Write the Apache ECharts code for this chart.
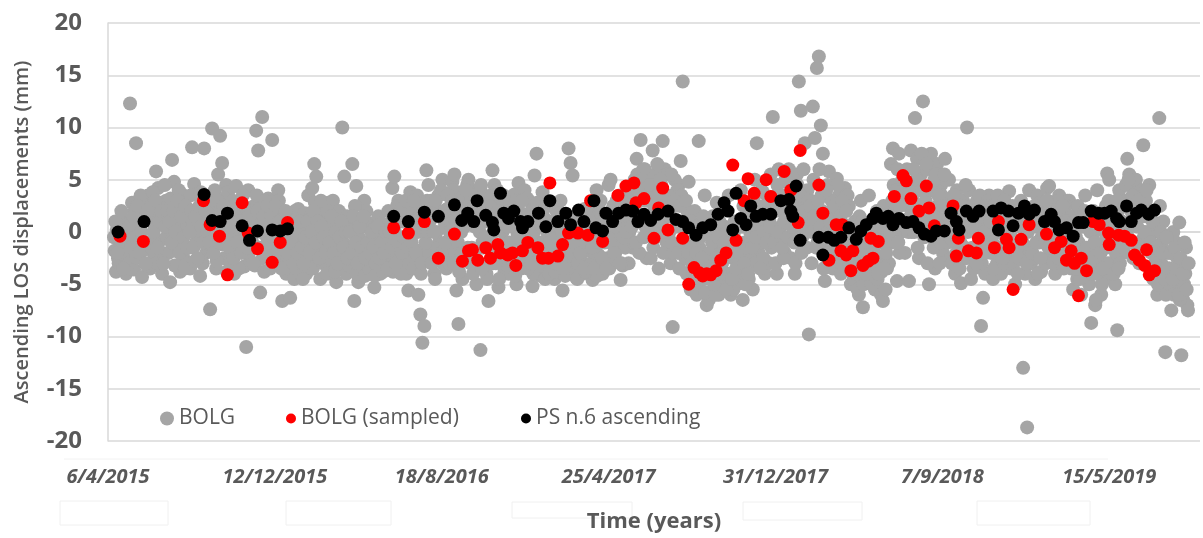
<!DOCTYPE html>
<html>
<head>
<meta charset="utf-8">
<title>Ascending LOS displacements</title>
<script src="https://cdn.jsdelivr.net/npm/echarts@6.0.0/dist/echarts.min.js"></script>
<style>
  html, body { margin: 0; padding: 0; background: #fff; }
  #chart { width: 1203px; height: 538px; }
</style>
</head>
<body>
<div id="chart"></div>
<script>
// x values are days counted from 6/4/2015 (the axis start)
const tickLabels = ['6/4/2015', '12/12/2015', '18/8/2016', '25/4/2017', '31/12/2017', '7/9/2018', '15/5/2019'];
const tickStep = 250;
const dayMax = 1636;

// BOLG daily readings, split in three passes of every 3rd day; each row holds 30 days
const bolgStep = 3;
// days 0, 3, 6, ...
const bolgRows = [
  [null, null, null, -0.5, -3.8, -2.5, 0.8, -3.2, -1.5, -4.0],
  [-2.0, 12.3, 2.8, -3.6, 8.5, 0.5, 3.2, -4.3, 1.8, -1.2],
  [3.5, -3.5, 2.0, -2.2, 5.8, 4.2, -0.8, -4.0, 1.2, 3.0],
  [2.5, -4.8, 6.9, 4.8, -1.5, 0.8, -3.8, 3.6, -2.6, 1.5],
  [2.2, -3.5, 8.1, 4.6, -1.0, 0.5, -4.2, 3.0, 8.0, -2.0],
  [0.2, -7.4, 9.9, 2.0, -3.5, 5.5, 9.2, 6.6, -2.5, 4.5],
  [3.8, -3.0, 1.5, -4.0, 4.4, -1.2, 2.5, 0.3, -3.3, -11.0],
  [4.0, -2.8, -1.0, 2.5, 9.7, 7.8, -5.8, 11.0, -3.8, 1.0],
  [3.2, -3.5, 8.8, 1.8, -1.5, 4.0, -2.6, -6.6, 0.2, -4.0],
  [-2.0, -6.3, 1.5, -4.5, -0.5, 2.2, -3.2, -1.2, 0.8, -4.0],
  [3.5, -2.8, 4.2, 6.5, 5.3, 1.0, -4.5, 2.5, -1.5, 0.2],
  [2.8, -3.5, -1.0, 1.8, -4.8, 0.5, -2.2, 10.0, 5.3, -4.0],
  [-2.0, 1.2, 6.5, -6.6, 4.4, -4.8, -0.8, -3.5, 3.0, 2.0],
  [-1.0, 0.8, -3.2, -5.3, -2.0, 1.5, -4.0, -0.3, -2.8, 0.5],
  [2.0, -2.5, 4.2, 5.3, -0.5, 3.0, -3.5, 1.0, -1.8, -4.0],
  [-5.6, 3.8, -2.8, 1.5, 2.8, -6.0, -7.9, -10.6, -9.0, 5.9],
  [4.5, -1.5, 2.5, -4.0, 0.0, 3.5, -2.8, 5.0, 1.0, -3.5],
  [2.0, -2.0, 4.8, 5.5, -5.6, -8.8, 3.8, -4.5, 0.5, 2.8],
  [5.0, -3.0, 1.5, 4.0, -5.0, 2.5, -11.3, -1.0, 3.5, -4.0],
  [-6.6, 1.2, 5.9, 4.5, -2.5, -5.3, 3.0, 0.0, -3.8, 2.0],
  [-4.0, 2.5, -1.5, 3.6, -5.0, 4.7, 0.8, -3.0, 4.0, -2.0],
  [3.0, -0.5, -5.2, 5.4, 7.5, 1.5, -4.2, 3.8, -2.5, -3.5],
  [2.5, -3.5, 0.5, -4.5, 2.0, -1.5, 3.0, -5.6, -2.8, -0.2],
  [8.0, 6.6, 5.4, -3.0, -4.4, 1.0, -2.0, -4.0, 2.2, -1.0],
  [-3.5, 2.0, -4.6, 0.5, 4.0, -2.2, 3.0, -4.0, -1.0, 1.5],
  [4.5, 5.0, -2.5, 1.5, 3.0, -1.0, -4.6, -3.2, 2.0, 0.0],
  [-3.0, 2.5, -1.5, 5.0, 7.0, 1.0, 8.8, 3.5, 6.0, -2.5],
  [3.5, -2.5, 7.8, 5.5, 1.0, -3.5, 4.0, 8.7, 6.0, -1.0],
  [3.0, -3.0, -9.1, 5.0, -1.5, 4.5, 6.8, 14.4, 1.0, -4.0],
  [4.8, -5.5, -3.0, 2.0, -6.0, 8.7, 0.5, -4.5, 3.5, -7.0],
  [-6.5, -3.0, 1.5, -5.0, 2.8, -6.0, -1.5, -4.0, 0.5, -5.5],
  [3.5, -6.0, -2.5, 1.0, -5.0, -3.8, 4.0, -6.5, -1.0, 2.0],
  [-4.5, 2.5, -5.5, 5.0, 8.5, -2.0, 0.0, 3.8, -4.0, 1.5],
  [-3.0, 5.5, 11.0, 2.0, -4.0, 6.0, 0.5, 3.5, -2.0, 4.8],
  [6.0, -2.5, 3.0, -4.0, 5.5, 14.4, 11.6, 1.0, 8.5, -1.5],
  [-9.8, 3.0, 12.0, 9.0, 15.7, 16.8, 10.2, 7.5, -4.7, -2.0],
  [5.8, 2.0, -3.5, -1.0, 5.1, 3.5, -4.0, 0.8, 4.2, -2.5],
  [2.5, -5.0, -1.5, 1.0, -3.5, -6.0, 3.0, -7.2, -2.5, -4.5],
  [3.5, -4.0, 0.5, -5.5, 2.0, -2.5, -6.0, -6.6, 1.5, -3.5],
  [-3.0, 6.5, 8.0, 2.0, -4.7, 7.5, 0.0, 4.5, -2.0, 6.0],
  [-4.7, 7.8, 3.0, 10.9, 7.0, -2.5, 5.5, 12.5, 1.0, 6.0],
  [-5.0, 7.5, 2.0, -3.5, 6.5, 0.5, 4.5, -2.0, 7.0, 3.0],
  [5.0, -2.5, 2.5, -4.0, 4.0, 0.5, -4.9, 3.0, -1.5, 10.0],
  [4.0, -4.5, 1.0, -2.5, 3.0, -1.0, -9.0, -6.3, -4.0, 2.0],
  [3.5, -2.0, -4.5, 1.5, -3.0, 3.0, -4.0, 0.5, 2.5, -2.5],
  [3.9, -3.5, 1.0, -5.0, 2.5, -2.0, 3.0, -13.0, -4.0, -18.7],
  [4.0, -3.0, 1.5, -4.5, 3.5, -1.0, -3.8, 2.5, 0.0, 4.2],
  [4.4, -2.0, 2.8, -4.0, 1.0, 3.5, -3.0, 0.5, -1.5, 3.0],
  [3.0, -3.5, -5.5, 1.5, -4.5, 2.0, -6.0, -2.0, 3.5, -4.0],
  [-5.0, -8.7, 2.0, -7.0, 4.0, -3.5, -6.0, 1.0, -4.5, 5.6],
  [5.0, -3.0, 2.5, -5.0, -9.4, 4.0, 0.0, -2.0, 3.0, 7.0],
  [5.5, 2.0, -2.5, 4.5, 0.5, -3.0, 3.5, 8.3, 1.5, -1.0],
  [4.5, -2.0, -4.5, 0.5, -6.0, 10.9, -3.0, 1.0, -11.5, -5.5],
  [-3.5, -7.5, 0.0, -5.5, -2.5, 0.9, -11.8, -6.5, -4.0, -7.0]
];

// days 1, 4, 7, ...
const bolgRowsB = [
  [null, null, null, -1.8, 0.2, -3.0, -0.8, 1.2, -2.2, 0.5],
  [-3.0, 1.0, -1.0, 2.0, -2.5, 0.0, 3.5, -1.8, 2.5, -3.2],
  [1.5, -1.5, 3.8, 0.5, -3.0, 2.8, 1.0, -2.0, 4.5, -0.5],
  [-2.0, 3.2, 0.0, -3.2, 1.8, 4.0, -1.0, 2.2, -3.5, 0.5],
  [-1.5, 3.5, 1.0, -2.8, 2.0, -0.5, 3.8, -3.0, 1.2, -1.2],
  [3.0, -1.8, 1.0, 4.0, -2.8, 2.5, 0.0, -1.2, 3.2, -3.8],
  [1.0, -2.0, 3.0, -0.5, 2.0, -3.5, 0.8, 3.5, -1.5, 1.8],
  [-2.0, 2.0, 0.5, -3.2, 3.5, -1.5, 1.5, -2.5, 3.0, -0.5],
  [0.8, -2.2, 2.5, -3.0, 0.0, 3.0, -1.0, 2.0, -3.0, 1.0],
  [-3.0, 0.0, -1.5, 2.0, -3.5, -2.5, 0.5, -4.5, 1.8, -2.2],
  [-1.0, 1.5, -3.5, 2.8, -2.2, 0.0, 3.0, -3.0, 1.5, -4.0],
  [-2.5, 0.5, 3.0, -3.8, -1.5, 2.0, -3.0, 0.8, -1.2, 1.5],
  [-3.2, 0.2, -1.5, 2.5, -4.0, -0.5, 1.0, -2.2, -4.2, 0.5],
  [-3.5, -1.8, 0.2, -4.2, -1.0, -2.8, 0.8, -3.8, -1.5, -0.2],
  [-1.0, 1.0, -3.8, 0.0, 2.5, -2.2, -4.0, 1.8, -0.8, -2.8],
  [-1.0, 2.0, -3.5, 0.5, 3.5, -1.8, -4.0, 1.0, -2.5, 3.0],
  [-2.0, 3.0, 1.5, -4.5, 2.0, -1.0, 4.0, -3.0, 0.5, 2.2],
  [-3.0, 1.0, 4.0, -1.5, 2.5, -3.8, 0.0, 3.5, -2.5, 4.5],
  [-2.0, 3.0, -4.0, 0.5, 2.0, -3.0, 4.5, -1.5, 1.0, -4.5],
  [-1.0, 3.5, -3.0, 0.5, 4.0, -4.5, 1.5, -2.0, 3.0, -3.2],
  [1.0, -2.5, 3.0, -4.2, 0.0, 2.0, -3.5, 1.5, -1.0, 3.2],
  [-2.0, 2.0, -4.0, 0.5, 2.8, -3.0, -1.0, 1.5, -4.5, 0.0],
  [-4.0, 1.0, -2.0, -3.8, 0.0, -1.0, 1.8, -3.5, -4.2, 0.8],
  [-2.5, 0.0, -3.5, -1.5, -4.5, -0.5, -2.8, 0.5, -3.8, -1.8],
  [-1.0, -3.0, 1.0, -2.0, -4.2, 2.0, -0.5, -3.0, 1.5, -2.5],
  [-3.5, 0.5, 2.5, -2.0, 0.0, 3.5, -3.0, 1.0, -1.5, 3.0],
  [0.0, 4.0, -1.0, 2.0, 5.5, -2.0, 3.0, 6.0, 0.5, 4.5],
  [1.5, 5.0, -1.5, 3.0, 6.5, 0.0, 4.5, -2.0, 2.0, 5.5],
  [0.0, 5.5, -2.0, 2.5, 4.0, -3.5, 3.5, 0.5, -2.5, 2.0],
  [-2.0, 1.0, -4.0, 0.0, -5.0, -1.5, -3.5, 1.5, -5.8, -2.5],
  [-2.0, -4.5, 0.0, -6.0, -3.0, 1.0, -5.0, -2.0, -4.0, -0.5],
  [-4.0, -1.0, -5.5, 0.5, -3.0, -4.5, -1.5, 2.5, -5.0, -2.5],
  [-2.5, 0.5, 3.0, -3.0, 1.5, -1.0, 4.0, -2.5, 2.0, -0.5],
  [1.0, -1.5, 3.0, -3.0, 4.5, -0.5, 2.0, -2.5, 5.0, 1.5],
  [-0.5, 3.5, 2.0, -3.0, 4.5, 0.0, -2.0, 6.0, 2.5, 4.0],
  [1.0, -3.0, 5.0, 2.0, -1.0, 6.0, 3.5, -3.5, 1.5, 4.5],
  [-1.5, 3.0, 0.5, -2.5, 4.5, 1.5, -3.0, 2.5, -0.5, 3.5],
  [-3.0, 0.5, -4.5, -2.0, -5.5, 1.5, -3.0, -5.0, 0.0, -2.0],
  [-2.0, -5.0, 1.0, -3.0, -4.5, 0.0, -3.8, 2.5, -5.5, -1.0],
  [2.0, -1.0, 4.5, 1.0, 6.0, -2.0, 3.5, 5.0, 0.5, 2.5],
  [3.5, 0.0, 6.0, 2.0, -1.5, 4.0, 7.5, 0.5, 3.0, -3.0],
  [0.0, 4.0, -1.5, 5.5, 2.5, -3.0, 3.5, 1.0, 5.0, -1.0],
  [1.0, -3.0, 3.5, -1.0, 2.0, -3.5, 1.5, -2.0, 4.5, 0.0],
  [-2.0, 2.5, -3.5, 0.0, -1.5, 3.5, -3.0, 1.0, -2.0, 3.0],
  [-1.0, 2.0, -3.5, 0.0, 3.5, -1.5, 1.5, -3.0, -0.5, 2.0],
  [-1.0, 2.0, -3.0, 0.5, -4.0, 1.5, -1.5, 2.5, -2.5, 0.0],
  [-1.5, 2.0, -2.5, 0.5, -4.0, 2.8, -0.5, 1.5, -3.0, 3.0],
  [-1.0, 2.0, -3.0, 0.0, 3.0, -2.0, 1.5, -3.5, 2.5, -0.5],
  [-1.0, 1.5, -3.0, -0.5, 2.5, -4.5, -2.0, 0.5, -3.5, 1.0],
  [-2.0, -4.0, 0.0, -6.5, -2.5, 1.5, -5.0, -1.0, 2.5, -3.0],
  [-1.0, 1.5, -4.0, -2.0, 2.0, -3.0, 1.0, -1.5, 4.5, -0.5],
  [3.0, -1.0, 1.0, 5.0, -2.0, 2.5, 4.0, -0.5, 3.0, 0.0],
  [2.0, -4.0, 0.0, -2.5, -5.0, 2.5, -1.0, -3.5, -6.0, -2.0],
  [-5.0, -2.0, -6.0, -1.0, -4.5, -6.5, -3.0, -5.0, -1.5, -7.5]
];

// days 2, 5, 8, ...
const bolgRowsC = [
  [null, null, null, 1.0, -2.0, -0.5, 2.0, -3.5, 0.0, -1.0],
  [0.5, -1.5, 1.5, -0.5, 2.5, -2.0, 0.0, 1.0, -3.0, 2.0],
  [-1.0, 2.5, 0.0, 3.0, -1.5, 1.0, 2.0, -3.0, 0.5, 2.0],
  [1.0, -1.0, 2.0, 0.0, 3.0, -2.0, 1.5, -0.5, 2.5, -1.5],
  [0.0, 2.0, -1.5, 1.5, -2.5, 2.5, 0.5, -1.0, 2.0, 0.0],
  [-1.0, 1.5, -2.0, 0.5, 3.0, -1.0, 1.5, 2.5, -0.5, 1.0],
  [-1.5, 0.5, -2.5, 2.0, -1.0, 1.0, -2.0, 2.5, 0.0, -1.5],
  [1.5, -0.5, -3.0, 0.5, 2.0, -1.5, 0.0, 1.5, -2.0, 2.5],
  [-1.0, 1.5, -0.5, 2.5, -2.0, 1.0, -3.5, -0.5, 2.0, -2.0],
  [0.5, -1.0, -3.0, 0.0, -2.0, 1.0, -1.5, -3.0, -0.5, 1.0],
  [-2.0, 0.0, 2.0, -1.0, 1.0, -2.5, 0.5, -0.5, -2.0, 2.0],
  [-1.0, 1.5, -2.0, 0.0, -3.0, -0.5, 1.0, -1.5, 0.0, -2.5],
  [0.0, -2.0, 1.5, -1.0, -3.0, 0.5, -1.5, 1.5, -2.5, -1.0],
  [-2.0, 0.0, -1.5, -3.0, 0.5, -2.5, -1.0, -2.0, 0.0, -3.5],
  [0.0, -1.5, 1.5, -3.0, -1.0, 2.0, -2.0, -0.5, 3.0, -1.5],
  [1.0, -1.0, 3.0, -2.0, 0.0, 1.5, -3.0, 2.0, -1.0, 0.0],
  [1.0, -3.0, 0.0, 3.0, -1.5, 1.5, -2.0, 2.0, -1.0, 3.5],
  [0.0, 3.0, -3.0, 1.0, -1.0, 2.0, -2.0, 1.5, 4.0, -1.5],
  [1.0, -1.5, 2.5, -2.5, 3.0, 0.0, -3.5, 2.0, -0.5, 1.5],
  [2.5, -1.5, 0.0, -3.0, 2.0, 1.0, -2.0, 3.5, -1.0, 0.5],
  [-1.0, 1.5, -3.0, 2.0, -0.5, -2.0, 3.0, -1.5, 0.5, -3.5],
  [1.0, -3.0, 0.0, -1.5, 2.0, -2.5, 0.5, -1.0, 2.5, -2.0],
  [-1.0, -2.5, 1.0, -3.0, -0.5, -2.0, 0.0, -3.5, 1.5, -1.5],
  [0.5, -2.0, -1.0, 1.5, -3.0, -2.0, 0.0, -3.5, -1.0, 0.5],
  [1.0, -1.5, -3.5, 0.0, 2.5, -1.0, -2.5, 1.0, -3.5, 0.0],
  [-1.0, 2.0, -2.0, 0.5, 1.5, -3.0, 2.5, -0.5, 0.0, 1.5],
  [2.0, 0.5, 3.5, -1.0, 4.0, 1.5, 5.0, -0.5, 3.0, 1.0],
  [4.5, 0.5, 2.5, -0.5, 3.5, 5.0, 1.0, 2.5, 0.0, 3.5],
  [1.5, -1.0, 3.0, 0.5, -2.0, 2.5, 1.0, -1.0, 3.0, -2.0],
  [-1.0, -3.0, 0.5, -2.0, -4.0, -0.5, -2.5, -4.5, 0.0, -3.5],
  [-3.5, -1.0, -5.0, -2.5, -0.5, -4.0, -3.0, -1.0, -5.5, -2.0],
  [-2.0, -4.5, 0.0, -3.5, -1.0, -2.0, 0.5, -3.0, -1.5, -4.0],
  [0.0, -1.5, 1.5, -0.5, 2.5, -3.5, 1.0, 0.0, -1.0, 3.0],
  [0.5, 2.0, -1.0, 3.5, 0.0, 2.5, -1.5, 1.0, 3.0, -0.5],
  [2.0, 0.5, -1.0, 2.5, 1.0, 3.5, -0.5, 2.0, 0.0, 3.0],
  [2.5, 0.0, 1.5, -1.5, 3.0, 0.5, 2.0, -2.0, 4.0, 0.0],
  [1.0, -1.0, 2.5, 0.0, -2.0, 1.5, 3.0, -1.5, 2.0, 0.0],
  [-1.0, -2.5, 0.0, -4.0, -1.5, -3.0, 1.0, -2.0, -4.0, -1.0],
  [-1.0, -3.0, -2.0, 0.0, -4.0, -1.0, 0.5, -3.5, -2.0, 0.0],
  [0.0, 3.0, 1.5, 4.0, -1.0, 2.5, 5.0, 1.0, 3.5, 0.0],
  [1.5, 4.5, 0.0, 5.0, 2.5, 1.0, 4.0, -0.5, 6.5, 2.0],
  [2.0, 0.0, 5.0, 1.5, 3.5, -1.0, 2.5, 5.5, 0.0, 1.5],
  [-0.5, 2.0, 0.0, -2.0, 1.5, -1.0, 2.5, 0.5, -2.5, 1.0],
  [0.5, -1.5, 2.0, -3.0, 0.5, 1.5, -2.0, 0.0, 2.5, -1.0],
  [1.0, -1.0, 2.5, -2.0, 0.0, 1.5, -2.5, 3.0, -1.0, 0.5],
  [0.0, 2.5, -1.5, 1.5, -2.5, 0.5, -1.0, 1.5, -3.0, 2.0],
  [0.5, -2.0, 2.5, -1.0, 1.0, -2.5, 2.0, -0.5, 3.0, -1.5],
  [1.0, -1.0, 0.5, 2.0, -2.5, 0.0, 2.5, -1.5, 1.0, -2.5],
  [0.0, -2.0, 1.0, -3.5, -1.0, 0.5, -2.5, 2.0, -1.5, -3.0],
  [0.0, -2.5, -1.0, -4.0, 0.5, -2.0, -3.5, 0.0, -1.5, 3.0],
  [2.0, -1.0, 0.5, 3.0, -3.5, 1.0, -0.5, 2.5, 0.0, 5.0],
  [1.0, 3.5, -1.0, 2.0, 3.0, -1.5, 1.5, 0.0, 4.0, 2.0],
  [-1.0, 1.0, -3.0, -1.5, -3.5, 0.0, -2.0, -4.5, -0.5, -3.5],
  [-2.0, -4.5, -1.5, -3.5, -6.0, -2.5, -4.0, -1.0, -5.5, -3.0]
];

// BOLG (sampled): [day, mm]
const sampledPoints = [
  [18, -0.4], [53, -0.9], [143, 3.0], [153, 0.7], [167, -0.4], [179, -4.1], [201, 2.8], [210, -0.1],
  [224, -1.6], [246, -2.9], [258, -1.0], [269, 0.9],
  [428, 0.4], [450, -0.1], [474, 1.0], [495, -2.5], [519, -0.2], [531, -2.8], [540, -1.8], [546, -1.7],
  [554, -2.7], [566, -1.5], [573, -2.5], [584, -1.2], [588, -2.0], [599, -2.2], [606, -2.0], [611, -3.2],
  [621, -1.8], [629, -1.0], [644, -1.5], [651, -2.5], [660, -2.5], [662, 4.7], [674, -2.3], [681, -1.2],
  [690, -0.1], [704, -0.1], [719, -0.3], [723, 3.0], [741, -0.9], [764, 3.5], [776, 4.4], [788, 4.7],
  [791, 2.8], [803, 3.2], [818, -0.6], [825, 2.3], [831, 4.2], [839, 0.2], [861, -0.6], [870, -5.0],
  [878, -3.4], [886, -3.9], [891, -4.2], [897, -4.0], [903, -4.1], [911, -3.7], [918, -2.7], [926, -2.0],
  [936, 6.4], [941, -0.8], [953, 3.0], [959, 5.1], [968, 3.7], [986, 5.0], [993, 3.4], [1013, 5.8],
  [1023, 4.0], [1034, 0.9], [1037, 7.8], [1065, 4.5], [1071, 1.8], [1080, -2.7], [1091, 0.7], [1098, -1.8],
  [1100, 0.7], [1106, -2.2], [1113, -3.7], [1116, -1.8], [1131, -3.2], [1139, -2.8], [1143, -0.6], [1146, -2.5],
  [1154, -0.9], [1178, 3.4], [1191, 5.4], [1196, 4.9], [1203, 3.2], [1215, 2.0], [1226, 4.4], [1230, 2.3],
  [1238, 0.6], [1266, 2.5], [1271, -2.3], [1274, -0.6], [1289, -1.8], [1301, -2.0], [1304, -0.6], [1328, -1.5],
  [1334, 1.0], [1346, -0.7], [1350, -1.5], [1356, -5.5], [1368, -0.7], [1380, 0.7], [1406, -0.2], [1418, -1.5],
  [1428, -0.9], [1436, -2.7], [1443, -1.8], [1448, -3.0], [1454, -6.1], [1458, -2.5], [1466, -3.7], [1476, 1.0],
  [1485, 0.7], [1499, -0.1], [1500, -1.2], [1514, -0.3], [1523, -0.4], [1533, -0.8], [1538, -2.2], [1545, -2.7],
  [1553, -3.2], [1556, -1.7], [1560, -4.1], [1568, -3.7]
];

// PS n.6 ascending: [day, mm]
const psPoints = [
  [15, 0.0], [54, 1.0], [144, 3.6], [156, 1.1], [168, 1.0], [179, 1.8], [201, 0.6], [212, -0.8],
  [224, 0.1], [246, 0.2], [258, 0.1], [269, 0.3],
  [428, 1.5], [450, 1.0], [474, 1.9], [495, 1.5], [519, 2.6], [530, 1.1], [539, 1.8], [548, 1.0],
  [553, 3.0], [566, 1.6], [576, 0.9], [578, 0.2], [588, 3.7], [593, 1.8], [600, 1.3], [608, 2.0],
  [618, 1.0], [621, 0.4], [629, 1.0], [645, 1.8], [656, 0.5], [662, 3.0], [674, 1.0], [686, 1.8],
  [693, 0.7], [705, 2.1], [713, 1.0], [728, 3.0], [731, 0.4], [741, 0.1], [746, 1.8], [756, 1.0],
  [765, 1.8], [776, 2.1], [786, 2.0], [794, 1.0], [803, 1.7], [813, 1.1], [824, 1.7], [839, 2.0],
  [851, 1.2], [861, 1.0], [870, 0.4], [881, -0.3], [891, 0.4], [903, 0.7], [914, 1.7], [923, 2.8],
  [929, 2.0], [936, 0.2], [941, 3.7], [948, 1.3], [956, 0.7], [963, 2.5], [971, 1.5], [981, 1.7],
  [993, 1.7], [1008, 3.0], [1020, 3.1], [1023, 2.0], [1026, 1.5], [1031, 4.4], [1037, -0.8], [1065, -0.5],
  [1071, -2.2], [1079, -0.5], [1088, -0.8], [1098, -0.5], [1110, 0.4], [1121, -0.7], [1128, 0.1], [1136, 0.7],
  [1146, 1.3], [1151, 1.8], [1161, 1.3], [1169, 1.5], [1176, 0.7], [1185, 1.3], [1196, 0.9], [1206, 1.0],
  [1215, 0.4], [1223, -0.2], [1233, -0.4], [1241, 0.1], [1253, 0.1], [1263, 1.8], [1271, 1.0], [1275, 0.2],
  [1286, 2.0], [1296, 1.5], [1305, 2.0], [1326, 2.0], [1334, 0.2], [1338, 2.3], [1349, 2.0], [1356, 0.6],
  [1364, 1.8], [1373, 2.5], [1380, 1.7], [1388, 2.1], [1403, 1.0], [1413, 1.7], [1418, 1.0], [1425, 0.2],
  [1436, 0.4], [1446, -0.4], [1454, 0.9], [1461, 0.9], [1473, 2.0], [1484, 1.8], [1493, 1.8], [1503, 2.0],
  [1511, 1.3], [1515, 1.0], [1526, 2.5], [1533, 1.0], [1541, 1.8], [1548, 2.1], [1559, 1.7], [1568, 2.1]
];

const bolgPoints = [];
[bolgRows, bolgRowsB, bolgRowsC].forEach((rows, offset) => {
  rows.flat().forEach((v, i) => {
    if (v !== null) bolgPoints.push([i * bolgStep + offset, v]);
  });
});

const textGray = '#595959';
const lineGray = '#D9D9D9';
const font = 'Open Sans';

const chart = echarts.init(document.getElementById('chart'));

const legendText = { color: textGray, fontSize: 21, fontFamily: font };

chart.setOption({
  animation: false,
  grid: { left: 108, right: 3, top: 23, bottom: 94 },
  legend: [
    { data: ['BOLG'], left: 160, top: 408, icon: 'circle', itemWidth: 14, itemHeight: 14, textStyle: legendText, padding: 0 },
    { data: ['BOLG (sampled)'], left: 286, top: 408, icon: 'circle', itemWidth: 10, itemHeight: 10, textStyle: legendText, padding: 0 },
    { data: ['PS n.6 ascending'], left: 521, top: 408, icon: 'circle', itemWidth: 10, itemHeight: 10, textStyle: legendText, padding: 0 }
  ],
  xAxis: {
    type: 'value',
    min: 0,
    max: dayMax,
    interval: tickStep,
    name: 'Time (years)',
    nameLocation: 'middle',
    nameGap: 70,
    nameTextStyle: { color: textGray, fontSize: 22, fontWeight: 'bold', fontFamily: font },
    axisLine: { show: true, lineStyle: { color: lineGray, width: 1.5 } },
    axisTick: { show: false },
    splitLine: { show: false },
    axisLabel: {
      margin: 26,
      color: textGray,
      fontSize: 20,
      fontStyle: 'italic',
      fontWeight: 'bold',
      fontFamily: font,
      formatter: v => {
        const i = v / tickStep;
        return Number.isInteger(i) && tickLabels[i] ? tickLabels[i] : '';
      }
    }
  },
  yAxis: {
    type: 'value',
    min: -20,
    max: 20,
    interval: 5,
    name: 'Ascending LOS displacements (mm)',
    nameLocation: 'middle',
    nameRotate: 90,
    nameGap: 76,
    nameTextStyle: { color: textGray, fontSize: 20, fontWeight: 600, fontFamily: font },
    axisLine: { show: true, lineStyle: { color: lineGray, width: 1.5 } },
    axisTick: { show: false },
    splitLine: { show: true, lineStyle: { color: lineGray, width: 1.5 } },
    axisLabel: { margin: 26, color: textGray, fontSize: 24, fontWeight: 'bold', fontFamily: font }
  },
  series: [
    {
      name: 'BOLG',
      type: 'scatter',
      symbolSize: 14,
      itemStyle: { color: '#A5A5A5', opacity: 1 },
      data: bolgPoints
    },
    {
      name: 'BOLG (sampled)',
      type: 'scatter',
      symbolSize: 13,
      itemStyle: { color: '#FF0000', opacity: 1 },
      data: sampledPoints
    },
    {
      name: 'PS n.6 ascending',
      type: 'scatter',
      symbolSize: 13,
      itemStyle: { color: '#000000', opacity: 1 },
      data: psPoints
    }
  ],
  graphic: [
    { type: 'line', shape: { x1: 64, y1: 459, x2: 1108, y2: 459 }, style: { stroke: '#F2F2F2', lineWidth: 1 } },
    { type: 'rect', shape: { x: 60, y: 501, width: 108, height: 24 }, style: { fill: 'none', stroke: '#F0F0F0', lineWidth: 1 } },
    { type: 'rect', shape: { x: 286, y: 501, width: 105, height: 24 }, style: { fill: 'none', stroke: '#F0F0F0', lineWidth: 1 } },
    { type: 'rect', shape: { x: 512, y: 502, width: 120, height: 16 }, style: { fill: 'none', stroke: '#F0F0F0', lineWidth: 1 } },
    { type: 'rect', shape: { x: 743, y: 502, width: 119, height: 18 }, style: { fill: 'none', stroke: '#F0F0F0', lineWidth: 1 } },
    { type: 'rect', shape: { x: 977, y: 501, width: 113, height: 24 }, style: { fill: 'none', stroke: '#F0F0F0', lineWidth: 1 } }
  ]
});
</script>
</body>
</html>
